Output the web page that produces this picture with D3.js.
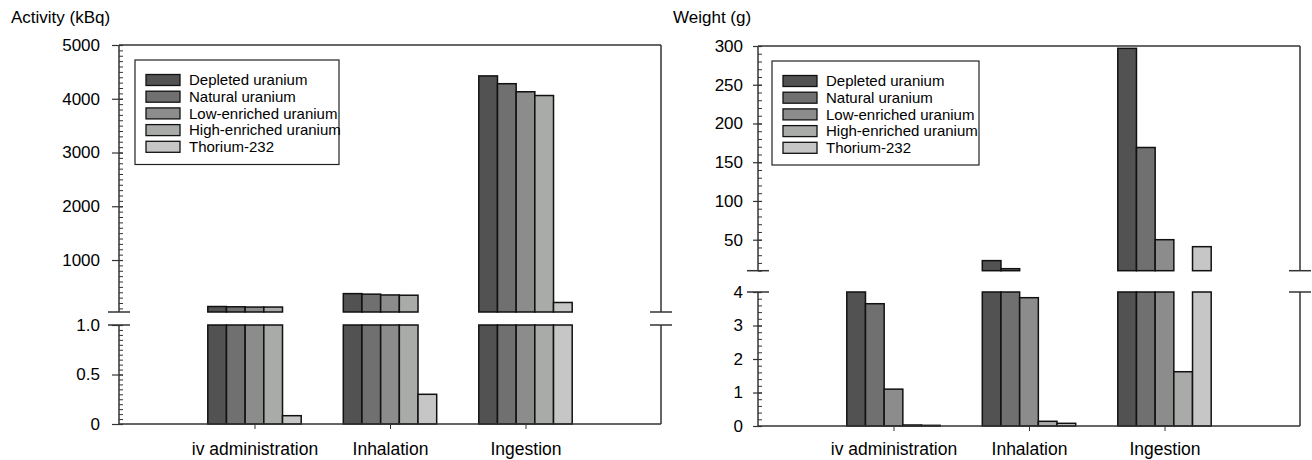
<!DOCTYPE html>
<html>
<head>
<meta charset="utf-8">
<script src="https://cdn.jsdelivr.net/npm/d3@7"></script>
<style>
  body { margin: 0; background: #fff; }
  svg { display: block; font-family: "Liberation Sans", Arial, sans-serif; }
</style>
</head>
<body>
<svg id="chart" width="1312" height="460"></svg>
<script>
const categories = ['iv administration', 'Inhalation', 'Ingestion'];
const isotopes = ['Depleted uranium', 'Natural uranium', 'Low-enriched uranium', 'High-enriched uranium', 'Thorium-232'];
const isotopeColors = ['#525252', '#707070', '#8c8c8c', '#a9aba9', '#c6c6c6'];

// activity (kBq), one array per isotope, ordered like categories
const activityDepleted = [135, 375, 4425];
const activityNatural = [130, 365, 4280];
const activityLowEnriched = [125, 350, 4130];
const activityHighEnriched = [125, 345, 4060];
const activityThorium = [0.084, 0.30, 210];

// weight (g)
const weightDepleted = [4.0, 23, 297];
const weightNatural = [3.65, 12.6, 169];
const weightLowEnriched = [1.1, 3.83, 50];
const weightHighEnriched = [0.03, 0.14, 1.62];
const weightThorium = [0.02, 0.08, 41];

const activityLowerTicks = [0, 0.5, 1.0];
const activityUpperTicks = [1000, 2000, 3000, 4000, 5000];
const weightLowerTicks = [0, 1, 2, 3, 4];
const weightUpperTicks = [50, 100, 150, 200, 250, 300];

const svg = d3.select('#chart');
const axisColor = '#333';

function drawPanel(opts) {
  const g = svg.append('g');
  const {x0, x1, yBottom, lower, upper} = opts;

  const x = d3.scalePoint().domain(categories).range([x0, x1]).padding(1);
  const offset = d3.scaleBand().domain(isotopes).range([-46.7, 46.7]);

  const yLow = d3.scaleLinear().domain(lower.domain).range([yBottom, lower.top]);
  const yUp = d3.scaleLinear().domain(upper.domain).range([upper.bottom, upper.top]);

  // bars
  const rows = [];
  opts.series.forEach((vals, si) => {
    vals.forEach((v, ci) => rows.push({cat: categories[ci], iso: isotopes[si], color: isotopeColors[si], v}));
  });

  const bars = g.append('g').attr('stroke', '#111').attr('stroke-width', 1.5);
  bars.selectAll('rect.low').data(rows).join('rect')
    .attr('class', 'low')
    .attr('x', d => x(d.cat) + offset(d.iso))
    .attr('width', offset.bandwidth())
    .attr('y', d => yLow(Math.min(d.v, lower.domain[1])))
    .attr('height', d => yBottom - yLow(Math.min(d.v, lower.domain[1])))
    .attr('fill', d => d.color);

  bars.selectAll('rect.up').data(rows.filter(d => d.v > upper.domain[0])).join('rect')
    .attr('class', 'up')
    .attr('x', d => x(d.cat) + offset(d.iso))
    .attr('width', offset.bandwidth())
    .attr('y', d => yUp(d.v))
    .attr('height', d => upper.bottom - yUp(d.v))
    .attr('fill', d => d.color);

  // frame lines
  const lines = g.append('g').attr('stroke', axisColor).attr('stroke-width', 1.5).attr('fill', 'none');
  [x0, x1].forEach(ax => {
    lines.append('line').attr('x1', ax).attr('x2', ax).attr('y1', upper.top).attr('y2', upper.bottom);
    lines.append('line').attr('x1', ax).attr('x2', ax).attr('y1', lower.top).attr('y2', yBottom);
    [upper.bottom, lower.top].forEach(by => {
      lines.append('line').attr('x1', ax - 11).attr('x2', ax + 11).attr('y1', by).attr('y2', by);
    });
  });
  lines.append('line').attr('x1', x0).attr('x2', x1).attr('y1', upper.top).attr('y2', upper.top);
  lines.append('line').attr('x1', x0).attr('x2', x1).attr('y1', yBottom).attr('y2', yBottom);

  // y axes: minor ticks inward, major ticks crossing, labels
  function yAxis(scale, majors, minorStep, fmt) {
    const [d0, d1] = scale.domain();
    const minors = d3.range(Math.ceil(d0 / minorStep) * minorStep, d1 + minorStep / 2, minorStep);
    g.append('g').attr('transform', `translate(${x0},0)`)
      .call(d3.axisLeft(scale).tickValues(minors).tickSize(-4).tickFormat(''))
      .call(s => s.select('.domain').remove())
      .call(s => s.selectAll('line').attr('stroke', axisColor));
    g.append('g').attr('transform', `translate(${x0},0)`)
      .call(d3.axisLeft(scale).tickValues(majors).tickSize(opts.majorOut).tickPadding(opts.labelPad).tickFormat(fmt))
      .call(s => s.select('.domain').remove())
      .call(s => s.selectAll('line').attr('stroke', axisColor).attr('x2', -opts.majorOut).attr('x1', 4).attr('stroke-width', 1.2))
      .call(s => s.selectAll('text').attr('font-size', 17).attr('fill', '#000').attr('font-family', null));
  }
  yAxis(yLow, lower.ticks, lower.minor, lower.fmt);
  yAxis(yUp, upper.ticks, upper.minor, d3.format('d'));

  // x axis
  g.append('g').attr('transform', `translate(0,${yBottom})`)
    .call(d3.axisBottom(x).tickSize(5).tickSizeOuter(0).tickPadding(opts.xPad))
    .call(s => s.select('.domain').remove())
    .call(s => s.selectAll('line').attr('stroke', axisColor))
    .call(s => s.selectAll('text').attr('font-size', 17.5).attr('fill', '#000').attr('font-family', null));

  // title
  g.append('text').attr('x', opts.titleX).attr('y', 23).attr('font-size', 17).text(opts.title);

  // legend
  const lg = g.append('g');
  lg.append('rect').attr('x', opts.legend.x).attr('y', opts.legend.y)
    .attr('width', opts.legend.w).attr('height', opts.legend.h)
    .attr('fill', '#fff').attr('stroke', '#222').attr('stroke-width', 1.2);
  const item = lg.selectAll('g.item').data(isotopes).join('g')
    .attr('transform', (d, i) => `translate(${opts.legend.x + 11},${opts.legend.y + 20 + i * 16.7})`);
  item.append('rect').attr('x', 0).attr('y', -5.5).attr('width', 34).attr('height', 11)
    .attr('fill', (d, i) => isotopeColors[i]).attr('stroke', '#111').attr('stroke-width', 1.3);
  item.append('text').attr('x', 43).attr('y', 5.2).attr('font-size', 15).text(d => d);
}

drawPanel({
  x0: 119, x1: 661, yBottom: 424,
  lower: {domain: [0, 1], top: 325, ticks: activityLowerTicks, minor: 0.05, fmt: d => d === 0 ? '0' : d3.format('.1f')(d)},
  upper: {domain: [33, 5000], top: 45, bottom: 312, ticks: activityUpperTicks, minor: 100},
  series: [activityDepleted, activityNatural, activityLowEnriched, activityHighEnriched, activityThorium],
  majorOut: 7, labelPad: 12, xPad: 14,
  title: 'Activity (kBq)', titleX: 11,
  legend: {x: 135, y: 60, w: 204, h: 104.5}
});

drawPanel({
  x0: 758, x1: 1300, yBottom: 426,
  lower: {domain: [0, 4], top: 292, ticks: weightLowerTicks, minor: 0.2, fmt: d3.format('d')},
  upper: {domain: [10, 300], top: 46, bottom: 270.7, ticks: weightUpperTicks, minor: 10},
  series: [weightDepleted, weightNatural, weightLowEnriched, weightHighEnriched, weightThorium],
  majorOut: 5, labelPad: 10, xPad: 12,
  title: 'Weight (g)', titleX: 673,
  legend: {x: 772, y: 61, w: 207, h: 104}
});
</script>
</body>
</html>
